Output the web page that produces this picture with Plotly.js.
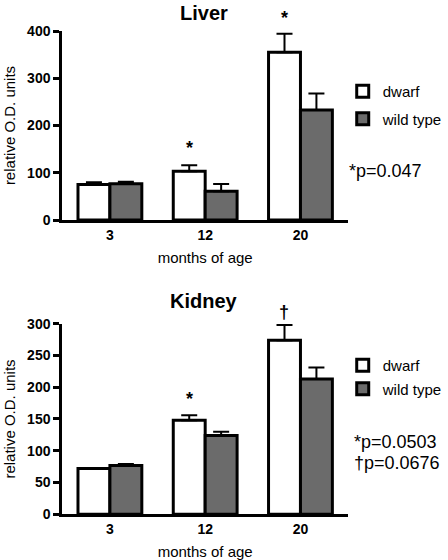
<!DOCTYPE html>
<html><head><meta charset="utf-8">
<script src="https://cdn.plot.ly/plotly-3.0.1.min.js"></script>
<style>html,body{margin:0;padding:0;background:#fff}</style>
</head><body><div id="chart" style="width:448px;height:560px"></div>
<script>
const ages = ["3", "12", "20"];
const seriesNames = ["dwarf", "wild type"];
const liverDwarf = [75, 103, 355];
const liverDwarfErr = [5, 13, 39];
const liverWild = [77, 61, 233];
const liverWildErr = [4, 15, 35];
const kidneyDwarf = [72, 148, 274];
const kidneyDwarfErr = [1, 8, 24];
const kidneyWild = [77, 124, 213];
const kidneyWildErr = [2, 6, 18];
const liverMarks = [{i: 1, text: "*"}, {i: 2, text: "*"}];
const kidneyMarks = [{i: 1, text: "*"}, {i: 2, text: "†"}];
const liverP = ["*p=0.047"];
const kidneyP = ["*p=0.0503", "†p=0.0676"];

const FONT = "Liberation Sans, Arial, sans-serif";
const fills = ["#ffffff", "#6b6b6b"];

function barTrace(name, y, err, fill, xa, ya, legend, group) {
  return {
    type: "bar", name: name, x: ages, y: y,
    xaxis: xa, yaxis: ya, legend: legend, legendgroup: group,
    marker: {color: fill, line: {color: "#000", width: 3}},
    error_y: {type: "data", symmetric: false, array: err, arrayminus: err.map(() => 0),
              color: "#000", thickness: 2, width: 8},
    hoverinfo: "x+y"
  };
}

const data = [
  barTrace(seriesNames[0], liverDwarf, liverDwarfErr, fills[0], "x", "y", "legend", "l1"),
  barTrace(seriesNames[1], liverWild, liverWildErr, fills[1], "x", "y", "legend", "l2"),
  barTrace(seriesNames[0], kidneyDwarf, kidneyDwarfErr, fills[0], "x2", "y2", "legend2", "k1"),
  barTrace(seriesNames[1], kidneyWild, kidneyWildErr, fills[1], "x2", "y2", "legend2", "k2")
];

function xAxis(domain, anchor) {
  return {
    domain: domain, anchor: anchor, type: "category", range: [-0.5, 2.5],
    showline: true, linecolor: "#000", linewidth: 3, ticks: "", showgrid: false,
    zeroline: false, automargin: false, fixedrange: true,
    tickfont: {family: FONT, size: 14, color: "#000", weight: "bold"},
    title: {text: "months of age", font: {family: FONT, size: 15, color: "#000"}, standoff: 11}
  };
}
function yAxis(domain, anchor, range, dtick) {
  return {
    domain: domain, anchor: anchor, range: range, dtick: dtick,
    showline: true, linecolor: "#000", linewidth: 3, ticks: "outside", ticklen: 6, tickwidth: 3,
    tickcolor: "#000", showgrid: false, zeroline: false, automargin: false, fixedrange: true,
    tickfont: {family: FONT, size: 14, color: "#000", weight: "bold"},
    title: {text: "relative O.D. units", font: {family: FONT, size: 15, color: "#000"}, standoff: 8}
  };
}

const annotations = [];
function title(text, y, anchor) {
  annotations.push({text: text, xref: "paper", yref: "paper", x: 0.456, y: y,
    xanchor: "center", yanchor: anchor, showarrow: false,
    font: {family: FONT, size: 20, color: "#000", weight: "bold"}});
}
title("Liver", 1, "top");
title("Kidney", 0.462, "middle");

function marks(list, dwarf, err, xa, ya, shifts) {
  list.forEach((m, k) => annotations.push({
    text: m.text, x: m.i, y: dwarf[m.i] + err[m.i], xref: xa, yref: ya,
    xshift: -16, yshift: shifts[k], xanchor: "center", yanchor: "bottom", showarrow: false,
    font: {family: FONT, size: 18, color: "#000", weight: "bold"}
  }));
}
marks(liverMarks, liverDwarf, liverDwarfErr, "x", "y", [5, 4]);
marks(kidneyMarks, kidneyDwarf, kidneyDwarfErr, "x2", "y2", [4, 1]);

function pText(lines, x, yTop, step) {
  lines.forEach((t, k) => annotations.push({
    text: t, xref: "paper", yref: "paper", x: x, y: yTop - k * step,
    xanchor: "left", yanchor: "middle", showarrow: false,
    font: {family: FONT, size: 18, color: "#000"}
  }));
}
pText(liverP, 0.775, (560 - 171) / 560, 0);
pText(kidneyP, 0.785, (560 - 442) / 560, 20.5 / 560);

const legendBase = {
  xanchor: "left", yanchor: "top", bgcolor: "rgba(0,0,0,0)", borderwidth: 0,
  font: {family: FONT, size: 15, color: "#000"}, traceorder: "grouped",
  itemclick: false, itemdoubleclick: false
};

const layout = {
  width: 448, height: 560, margin: {l: 0, r: 0, t: 0, b: 0},
  paper_bgcolor: "#fff", plot_bgcolor: "#fff",
  barmode: "group", bargap: 0.33, bargroupgap: 0,
  font: {family: FONT, color: "#000"},
  xaxis: xAxis([0.139, 0.777], "y"),
  yaxis: yAxis([0.6071, 0.9446], "x", [0, 400], 100),
  xaxis2: xAxis([0.139, 0.777], "y2"),
  yaxis2: yAxis([0.0816, 0.422], "x2", [0, 300], 50),
  legend: Object.assign({}, legendBase, {x: 0.765, y: (560 - 75) / 560, tracegroupgap: 5}),
  legend2: Object.assign({}, legendBase, {x: 0.765, y: (560 - 349) / 560, tracegroupgap: 1}),
  annotations: annotations,
  showlegend: true
};

Plotly.newPlot("chart", data, layout, {displayModeBar: false, staticPlot: true});
</script></body></html>
